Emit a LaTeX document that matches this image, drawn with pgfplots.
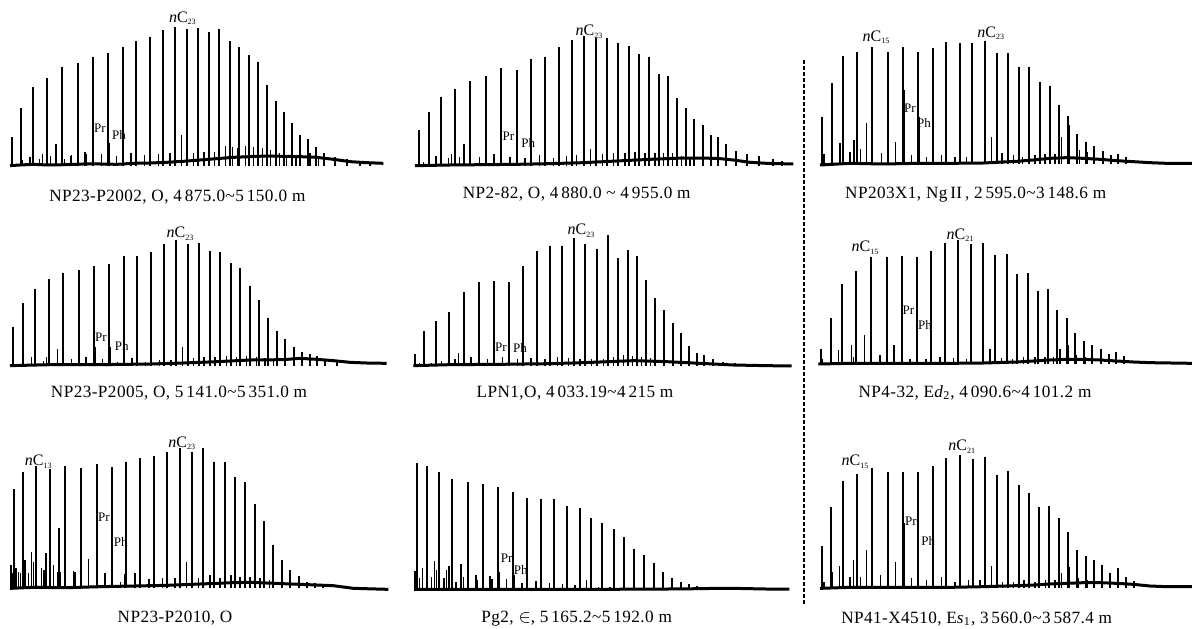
\documentclass[border=0pt]{standalone}
\usepackage{fontspec}
\setmainfont{Liberation Serif}
\usepackage{pgfplots}
\pgfplotsset{compat=1.18}

% one unit = 1/3 pixel of the original figure (1 px = 0.5pt)
\pgfplotsset{
  gc/.style={hide axis, clip=false, x=0.16667pt, y=0.16667pt,
    xmin=0, xmax=1170, ymin=0, ymax=440, anchor=south west},
  gcpeak/.style={ycomb, black, line width=1pt, mark=none},
  gcminor/.style={ycomb, black, line width=0.8pt, mark=none},
  gcbase/.style={black, line width=1.5pt, line join=round},
}
\tikzset{
  gclab/.style={font=\fontsize{8}{9}\selectfont, inner sep=0pt},
  gcpp/.style={font=\fontsize{6.5}{7}\selectfont, inner sep=0pt},
  gccap/.style={font=\fontsize{8.6}{10}\selectfont\addfontfeatures{LetterSpace=2.5}, inner sep=0pt},
}
\newcommand{\nC}[1]{\textit{n}C\raisebox{-0.35ex}{\fontsize{4}{5}\selectfont #1}}

\begin{document}
\begin{tikzpicture}

% ---- row 1 ----
\begin{axis}[gc, at={(0pt,231.17pt)}]
\addplot[gcbase] coordinates {(30,0) (60,2) (100,4) (140,2) (200,3) (250,5) (300,5) (350,4) (400,7) (450,8) (500,10) (550,13) (600,17) (650,21) (700,25) (750,27) (800,29) (850,28) (900,27) (950,25) (1000,19) (1050,12) (1100,9) (1150,7)};
\addplot[gcminor] coordinates {(67,17) (90,27) (118,19) (128,35) (152,29) (168,65) (193,19) (211,29) (215,32) (255,40) (260,35) (305,35) (327,67) (350,29) (393,39) (433,32) (475,35) (510,37) (545,92) (580,39) (612,42) (643,40) (676,60) (698,57) (712,52) (737,59) (760,55) (788,52) (812,47) (838,37) (860,32) (888,32) (930,37) (955,27)};
\addplot[gcpeak] coordinates {(37,87) (64,174) (99,237) (141,262) (186,295) (233,307) (279,327) (323,337) (368,355) (408,375) (449,385) (488,407) (524,415) (560,411) (594,414) (627,401) (658,409) (689,375) (718,357) (747,332) (774,311) (801,241) (827,195) (851,162) (876,129) (901,93) (924,79) (947,57) (973,39) (1005,27) (1040,19) (1080,12) (1110,9)};
\node[gclab] at (axis cs:547,442) {\nC{23}};
\node[gcpp] at (axis cs:300,112) {Pr};
\node[gcpp] at (axis cs:357,92) {Ph};
\node[gccap] at (axis cs:532,-95) {NP23-P2002, O, 4\,875.0\textasciitilde5\,150.0 m};
\end{axis}

\begin{axis}[gc, at={(200pt,231.17pt)}]
\addplot[gcbase] coordinates {(45,0) (150,2) (250,3) (350,4) (450,6) (550,9) (650,14) (750,19) (850,23) (950,22) (1000,17) (1050,10) (1100,7) (1180,5)};
\addplot[gcminor] coordinates {(70,12) (108,29) (145,22) (155,35) (178,27) (192,65) (238,27) (282,35) (330,27) (350,57) (375,22) (418,32) (460,22) (500,29) (530,32) (572,49) (608,35) (640,37) (675,37) (705,42) (735,39) (765,39) (790,37) (818,37) (845,29) (870,27)};
\addplot[gcpeak] coordinates {(56,107) (86,160) (122,207) (165,229) (210,255) (258,269) (304,292) (350,287) (393,319) (435,327) (476,355) (515,377) (551,389) (587,382) (622,382) (655,367) (687,360) (718,334) (747,325) (777,275) (803,269) (831,204) (857,172) (882,141) (908,122) (932,92) (955,87) (978,64) (1007,45) (1040,35) (1077,29) (1120,19) (1145,15)};
\node[gclab] at (axis cs:567,402) {\nC{23}};
\node[gcpp] at (axis cs:325,87) {Pr};
\node[gcpp] at (axis cs:385,67) {Ph};
\node[gccap] at (axis cs:530,-85) {NP2-82, O, 4\,880.0 \textasciitilde\ 4\,955.0 m};
\end{axis}

\begin{axis}[gc, xmax=1176, at={(400pt,232pt)}]
\addplot[gcbase] coordinates {(60,-3) (150,2) (250,0) (350,2) (450,2) (550,3) (650,8) (700,12) (750,17) (800,19) (850,17) (900,14) (950,10) (1000,7) (1050,4) (1100,2) (1176,2)};
\addplot[gcminor] coordinates {(72,30) (97,40) (120,62) (150,37) (162,72) (182,44) (200,122) (245,34) (287,67) (314,222) (335,27) (357,142) (380,22) (425,27) (465,22) (500,22) (575,80) (606,34) (640,27) (668,22) (705,27) (735,30) (765,30) (785,80) (808,117) (838,42) (862,37)};
\addplot[gcpeak] coordinates {(67,140) (95,242) (130,324) (172,335) (217,352) (264,337) (310,350) (354,335) (398,348) (438,366) (479,362) (517,362) (555,369) (590,334) (624,334) (657,290) (688,290) (719,247) (749,235) (777,177) (803,144) (830,90) (857,65) (882,55) (908,40) (932,27) (955,30) (978,22)};
\addplot[black, line width=0.8pt, dash pattern=on 2pt off 1pt] coordinates {(12,312) (12,-1323)};
\node[gclab] at (axis cs:228,380) {\nC{15}};
\node[gclab] at (axis cs:572,392) {\nC{23}};
\node[gcpp] at (axis cs:330,167) {Pr};
\node[gcpp] at (axis cs:372,122) {Ph};
\node[gccap] at (axis cs:527,-93) {NP203X1, Ng\,II\,, 2\,595.0\textasciitilde3\,148.6 m};
\end{axis}

% ---- row 2 ----
\begin{axis}[gc, at={(0pt,131.17pt)}]
\addplot[gcbase] coordinates {(30,0) (150,3) (300,3) (450,5) (550,8) (650,12) (750,17) (850,18) (900,22) (950,19) (1000,15) (1050,10) (1100,8) (1160,7)};
\addplot[gcminor] coordinates {(70,17) (95,25) (130,15) (140,27) (172,50) (215,19) (258,27) (286,57) (308,19) (330,57) (352,12) (396,22) (437,12) (478,17) (513,17) (548,57) (580,22) (612,27) (645,27) (680,29) (710,27) (740,29) (770,27) (795,22) (820,19)};
\addplot[gcpeak] coordinates {(40,117) (68,187) (104,230) (146,259) (190,279) (237,287) (283,299) (328,304) (371,329) (412,329) (453,342) (491,365) (527,377) (563,365) (597,369) (630,345) (661,340) (692,309) (721,292) (750,239) (778,197) (804,144) (830,104) (856,79) (881,57) (905,41) (929,35) (951,29) (975,20) (1010,15)};
\node[gclab] at (axis cs:540,395) {\nC{23}};
\node[gcpp] at (axis cs:303,84) {Pr};
\node[gcpp] at (axis cs:365,60) {Ph};
\node[gccap] at (axis cs:537,-83) {NP23-P2005, O, 5\,141.0\textasciitilde5\,351.0 m};
\end{axis}

\begin{axis}[gc, at={(200pt,131.17pt)}]
\addplot[gcbase] coordinates {(40,0) (150,3) (300,4) (450,6) (550,9) (650,13) (700,15) (800,12) (900,7) (1000,2) (1100,0) (1175,-1)};
\addplot[gcminor] coordinates {(58,7) (95,9) (125,15) (165,19) (175,39) (213,25) (262,19) (308,27) (352,20) (393,22) (435,19) (473,27) (505,22) (540,20) (575,19) (610,19) (640,27) (670,32) (697,29) (725,27) (752,22)};
\addplot[gcpeak] coordinates {(45,35) (72,104) (107,134) (148,160) (192,222) (237,250) (283,255) (327,252) (369,300) (410,345) (449,359) (487,359) (522,382) (556,365) (590,350) (623,392) (653,322) (683,347) (711,329) (739,257) (766,204) (792,167) (818,127) (843,99) (866,59) (890,39) (913,32) (938,19) (970,12) (1005,9) (1048,5)};
\node[gclab] at (axis cs:543,405) {\nC{23}};
\node[gcpp] at (axis cs:303,54) {Pr};
\node[gcpp] at (axis cs:360,52) {Ph};
\node[gccap] at (axis cs:525,-83) {LPN1,O, 4\,033.19\textasciitilde4\,215 m};
\end{axis}

\begin{axis}[gc, xmax=1176, at={(400pt,132pt)}]
\addplot[gcbase] coordinates {(55,0) (150,2) (300,2) (450,2) (550,3) (650,6) (700,9) (750,12) (800,14) (850,14) (900,12) (950,9) (1000,6) (1050,4) (1176,2)};
\addplot[gcminor] coordinates {(68,14) (95,25) (115,42) (155,56) (160,22) (194,87) (240,27) (282,57) (308,172) (330,14) (352,82) (378,14) (420,22) (460,17) (500,14) (570,45) (604,17) (638,14) (670,22) (705,22) (735,22) (760,22) (780,44) (804,57) (830,27) (855,22)};
\addplot[gcpeak] coordinates {(64,45) (92,139) (127,239) (168,279) (213,320) (260,320) (306,325) (351,322) (394,339) (435,362) (475,372) (513,359) (550,362) (586,327) (620,329) (652,270) (684,274) (714,219) (744,225) (772,162) (800,137) (826,92) (852,69) (877,57) (902,45) (926,30) (949,37) (972,24)};
\node[gclab] at (axis cs:195,349) {\nC{15}};
\node[gclab] at (axis cs:480,387) {\nC{21}};
\node[gcpp] at (axis cs:325,160) {Pr};
\node[gcpp] at (axis cs:375,117) {Ph};
\node[gccap] at (axis cs:525,-86) {NP4-32, E\textit{d}\textsubscript{2}, 4\,090.6\textasciitilde4\,101.2 m};
\end{axis}

% ---- row 3 ----
\begin{axis}[gc, at={(0pt,19.83pt)}]
\addplot[gcbase] coordinates {(30,0) (100,3) (200,2) (300,5) (400,7) (500,9) (600,13) (700,17) (750,18) (800,16) (900,12) (1000,8) (1060,0) (1165,-3)};
\addplot[gcminor] coordinates {(33,70) (38,45) (48,60) (56,50) (62,45) (75,85) (85,45) (95,108) (100,80) (125,60) (132,55) (138,105) (160,70) (172,50) (177,182) (182,50) (220,53) (225,50) (265,88) (293,200) (315,47) (338,125) (362,20) (375,43) (405,47) (447,28) (487,32) (525,30) (560,80) (595,30) (630,40) (660,30) (693,40) (720,35) (750,35) (780,30) (808,25)};
\addplot[gcpeak] coordinates {(42,297) (70,348) (107,368) (150,357) (195,367) (243,361) (290,373) (335,365) (378,378) (420,390) (462,397) (501,408) (539,420) (575,408) (609,422) (642,380) (675,378) (706,333) (735,318) (764,252) (792,202) (820,130) (846,85) (871,55) (896,37) (920,20) (944,17) (970,10)};
\node[gclab] at (axis cs:115,380) {\nC{13}};
\node[gclab] at (axis cs:545,435) {\nC{23}};
\node[gcpp] at (axis cs:312,213) {Pr};
\node[gcpp] at (axis cs:362,140) {Ph};
\node[gccap] at (axis cs:525,-90) {NP23-P2010, O};
\end{axis}

\begin{axis}[gc, at={(200pt,19.33pt)}]
\addplot[gcbase] coordinates {(42,0) (200,0) (400,0) (600,0) (800,1) (900,2) (950,3) (1000,3) (1050,2) (1100,1) (1168,1)};
\addplot[gcminor] coordinates {(45,56) (58,33) (68,63) (82,88) (95,38) (103,85) (110,58) (132,33) (140,58) (147,70) (168,23) (183,75) (190,38) (228,43) (232,28) (270,40) (276,31) (298,53) (320,30) (342,43) (366,20) (408,25) (448,18) (488,15) (525,13) (560,28) (595,8) (630,8)};
\addplot[gcpeak] coordinates {(52,380) (80,370) (116,353) (157,330) (203,323) (248,315) (294,308) (339,293) (382,275) (424,271) (463,271) (502,250) (539,243) (574,215) (607,198) (641,180) (672,156) (703,120) (733,103) (762,78) (790,51) (816,33) (842,21) (867,16) (892,10)};
\node[gcpp] at (axis cs:320,93) {Pr};
\node[gcpp] at (axis cs:362,58) {Ph};
\node[gccap] at (axis cs:530,-89) {Pg2, $\in$, 5\,165.2\textasciitilde5\,192.0 m};
\end{axis}

\begin{axis}[gc, xmax=1176, at={(400pt,19.83pt)}]
\addplot[gcbase] coordinates {(60,0) (150,3) (300,3) (450,3) (550,5) (650,8) (700,10) (750,13) (800,15) (850,17) (900,17) (950,15) (1000,12) (1050,7) (1100,5) (1176,5)};
\addplot[gcminor] coordinates {(72,20) (97,50) (118,68) (150,35) (160,85) (182,35) (199,115) (242,40) (287,80) (312,195) (334,30) (356,117) (380,25) (425,35) (465,20) (505,25) (540,25) (575,67) (608,20) (640,20) (672,25) (705,20) (737,25) (765,25) (785,47) (808,65) (836,30) (862,25)};
\addplot[gcpeak] coordinates {(67,127) (94,243) (130,323) (172,343) (217,360) (264,350) (309,350) (354,350) (398,367) (439,390) (480,400) (518,388) (555,393) (590,340) (624,353) (656,310) (687,287) (718,243) (748,248) (777,210) (804,168) (831,115) (857,98) (882,85) (907,70) (930,45) (955,62) (978,35) (1003,23)};
\node[gclab] at (axis cs:165,380) {\nC{15}};
\node[gclab] at (axis cs:485,425) {\nC{21}};
\node[gcpp] at (axis cs:333,200) {Pr};
\node[gcpp] at (axis cs:385,142) {Ph};
\node[gccap] at (axis cs:530,-92) {NP41-X4510, E\textit{s}\textsubscript{1}, 3\,560.0\textasciitilde3\,587.4 m};
\end{axis}

\pgfresetboundingbox
\path[use as bounding box] (0,0) rectangle (596pt,314pt);
\end{tikzpicture}
\end{document}
